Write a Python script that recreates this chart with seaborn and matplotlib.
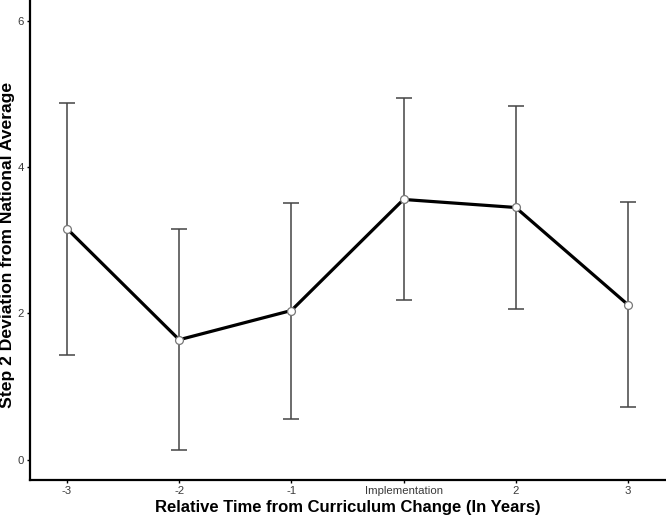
import numpy as np
import pandas as pd
import matplotlib
matplotlib.use("Agg")
import matplotlib.pyplot as plt
import seaborn as sns

# values
periods = ["-3", "-2", "-1", "Implementation", "2", "3"]
means = [3.16, 1.64, 2.04, 3.56, 3.45, 2.12]
lower = [1.43, 0.13, 0.55, 2.18, 2.06, 0.72]
upper = [4.88, 3.16, 3.51, 4.95, 4.84, 3.53]
y_ticks = [0, 2, 4, 6]

df = pd.DataFrame({
    "pos": np.arange(len(periods)),
    "period": periods,
    "mean": means,
    "lower": lower,
    "upper": upper,
})

sns.set_theme(style="white")
plt.rcParams["font.family"] = ["Liberation Sans", "DejaVu Sans"]

fig = plt.figure(figsize=(6.66, 5.16), dpi=100)
ax = fig.add_axes([30 / 666, 36 / 516, 1 - 30 / 666, 1 - 36 / 516])

# error bars
yerr = np.vstack([df["mean"] - df["lower"], df["upper"] - df["mean"]])
ax.errorbar(df["pos"], df["mean"], yerr=yerr, fmt="none", ecolor="#444444",
            elinewidth=1.1, capsize=6, capthick=1.1, zorder=1)

# mean line
sns.lineplot(data=df, x="pos", y="mean", color="black", linewidth=2.3,
             ax=ax, zorder=2)

# open circle markers
sns.scatterplot(data=df, x="pos", y="mean", s=32, facecolor="white",
                edgecolor="#777777", linewidth=0.9, ax=ax, zorder=3)

ax.set_xlim(-0.33, 5.34)
ax.set_ylim(-0.28, 6.29)
ax.set_xticks(df["pos"])
ax.set_xticklabels(periods)
ax.set_yticks(y_ticks)

ax.tick_params(axis="both", which="both", length=2.5, width=1, color="black",
               labelsize=8.2, labelcolor="#3a3a3a", pad=2, direction="out",
               bottom=True, left=True)

for side in ["top", "right"]:
    ax.spines[side].set_visible(False)
for side in ["left", "bottom"]:
    ax.spines[side].set_color("black")
    ax.spines[side].set_linewidth(1.6)

ax.set_xlabel("Relative Time from Curriculum Change (In Years)",
              fontsize=12, fontweight="bold", color="black", labelpad=3)
ax.set_ylabel("Step 2 Deviation from National Average",
              fontsize=12.6, fontweight="bold", color="black")
ax.yaxis.set_label_coords(-0.024, 0.49)

fig.savefig("out.png", dpi=100)
plt.close(fig)
